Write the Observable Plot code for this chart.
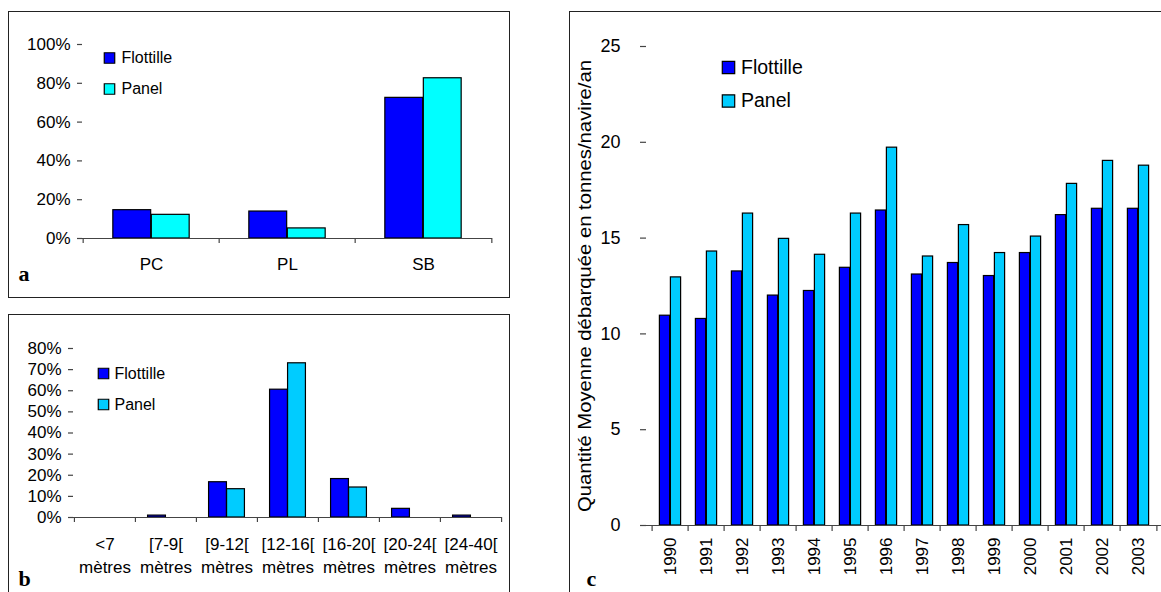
<!DOCTYPE html>
<html><head><meta charset="utf-8">
<script src="https://cdn.jsdelivr.net/npm/d3@7"></script>
<script src="https://cdn.jsdelivr.net/npm/@observablehq/plot@0.6"></script>
<style>
html,body{margin:0;padding:0;background:#fff;}
#wrap{position:relative;width:1161px;height:592px;overflow:hidden;background:#fff;font-family:"Liberation Sans",Arial,sans-serif;}
.frame{position:absolute;border:1.5px solid #222;box-sizing:border-box;}
.chart{position:absolute;}
.chart svg{display:block;background:none !important;}
</style></head><body>
<div id="wrap">
  <div class="frame" style="left:8px;top:11px;width:502px;height:287px"></div>
  <div class="frame" style="left:8px;top:314px;width:502px;height:300px"></div>
  <div class="frame" style="left:569px;top:11px;width:620px;height:620px"></div>
  <div class="chart" id="pa" style="left:9px;top:12px"></div>
  <div class="chart" id="pb" style="left:9px;top:315px"></div>
  <div class="chart" id="pc" style="left:570px;top:12px"></div>
</div>
<script>
// ---- data ----
const seriesNames = ["Flottille", "Panel"];

const catsA = ["PC", "PL", "SB"];
const flottilleA = [0.146, 0.139, 0.725];
const panelA = [0.122, 0.052, 0.826];

const catsB = ["<7\nmètres", "[7-9[\nmètres", "[9-12[\nmètres", "[12-16[\nmètres", "[16-20[\nmètres", "[20-24[\nmètres", "[24-40[\nmètres"];
const flottilleB = [0, 0.009, 0.167, 0.605, 0.182, 0.041, 0.009];
const panelB = [0, 0, 0.134, 0.73, 0.142, 0, 0];

const yearsC = ["1990","1991","1992","1993","1994","1995","1996","1997","1998","1999","2000","2001","2002","2003"];
const flottilleC = [10.95, 10.78, 13.26, 12.0, 12.24, 13.45, 16.44, 13.1, 13.7, 13.02, 14.22, 16.2, 16.53, 16.53];
const panelC = [12.95, 14.3, 16.28, 14.96, 14.13, 16.28, 19.72, 14.04, 15.68, 14.22, 15.08, 17.83, 19.03, 18.78];

const yLabelC = "Quantité Moyenne débarquée en tonnes/navire/an";

const ticksA = [0, 0.2, 0.4, 0.6, 0.8, 1];
const ticksB = [0, 0.1, 0.2, 0.3, 0.4, 0.5, 0.6, 0.7, 0.8];
const ticksC = [0, 5, 10, 15, 20, 25];

// ---- builder ----
function build(cfg) {
  const n = cfg.cats.length;
  const bw = (cfg.width - cfg.ml - cfg.mr) / n;
  const gap = (bw - 2 * cfg.barW) / 2;
  const marks = [];
  seriesNames.forEach((s, si) => {
    const rows = cfg.cats.map((c, i) => ({cat: c, v: cfg.vals[si][i]})).filter(d => d.v > 0);
    marks.push(Plot.barY(rows, {
      x: "cat", y: "v", fill: cfg.colors[si], stroke: "#000", strokeWidth: 1.2,
      insetLeft: si === 0 ? gap : bw / 2, insetRight: si === 0 ? bw / 2 : gap
    }));
  });
  marks.push(Plot.ruleY([0], {stroke: "#444", strokeWidth: 1.2}));
  marks.push(Plot.axisY({ticks: cfg.yTicks, tickFormat: cfg.yFormat, tickSize: cfg.tickSizeY, tickPadding: cfg.tickPadY,
    line: true, stroke: "#444", strokeWidth: 1.2, label: null, fontSize: cfg.fontSize, color: "#000"}));
  marks.push(Plot.axisX({ticks: cfg.cats, tickSize: cfg.tickSizeX, dx: -bw / 2, tickFormat: () => "", stroke: "#444", strokeWidth: 1.2, label: null}));
  marks.push(Plot.axisX({ticks: [cfg.cats[n - 1]], tickSize: cfg.tickSizeX, dx: bw / 2, tickFormat: () => "", stroke: "#444", strokeWidth: 1.2, label: null}));
  marks.push(Plot.axisX(Object.assign({tickSize: 0, tickPadding: cfg.tickPadX, label: null, fontSize: cfg.fontSizeX || cfg.fontSize}, cfg.xAxisExtra || {})));
  // legend
  seriesNames.forEach((s, si) => {
    marks.push(Plot.dot([s], {frameAnchor: "top-left", dx: cfg.leg.dx, dy: cfg.leg.dy + si * cfg.leg.gap,
      symbol: "square", r: cfg.leg.r, fill: cfg.colors[si], stroke: "#000", strokeWidth: 1.2}));
    marks.push(Plot.text([s], {frameAnchor: "top-left", dx: cfg.leg.tx, dy: cfg.leg.dy + si * cfg.leg.gap,
      text: d => d, textAnchor: "start", lineAnchor: "middle", fontSize: cfg.leg.fontSize, fill: "#000"}));
  });
  // panel letter
  marks.push(Plot.text([cfg.letter], {frameAnchor: "bottom-left", dx: cfg.letterPos[0], dy: cfg.letterPos[1], text: d => d,
    textAnchor: "start", lineAnchor: "bottom", fontFamily: "Liberation Serif, Times New Roman, serif", fontWeight: "bold", fontSize: 22, fill: "#000"}));
  if (cfg.extra) marks.push(...cfg.extra);
  const chart = Plot.plot({
    width: cfg.width, height: cfg.height,
    marginLeft: cfg.ml, marginRight: cfg.mr, marginTop: cfg.mt, marginBottom: cfg.mb,
    style: {fontFamily: "Liberation Sans, Arial, sans-serif", fontSize: cfg.fontSize + "px", color: "#000", background: "none", overflow: "visible"},
    x: {type: "band", domain: cfg.cats, padding: 0, label: null},
    y: {domain: cfg.yDomain, label: null},
    marks
  });
  document.getElementById(cfg.el).appendChild(chart);
  return chart;
}

build({
  el: "pa", width: 500, height: 285, ml: 73, mr: 17, mt: 32, mb: 59,
  cats: catsA, vals: [flottilleA, panelA], colors: ["#0000ff", "#00ffff"],
  yDomain: [0, 1], yTicks: ticksA, yFormat: d3.format(".0%"),
  tickSizeY: 5, tickPadY: 7, tickSizeX: 5, tickPadX: 19, fontSize: 17, barW: 38.5,
  leg: {dx: 27, dy: 13.5, gap: 31, r: 5.9, tx: 39, fontSize: 16},
  letter: "a", letterPos: [-64, 42]
});

build({
  el: "pb", width: 500, height: 277, ml: 64, mr: 8, mt: 33, mb: 75,
  cats: catsB, vals: [flottilleB, panelB], colors: ["#0000ff", "#00ccff"],
  yDomain: [0, 0.8], yTicks: ticksB, yFormat: d3.format(".0%"),
  tickSizeY: 5, tickPadY: 7, tickSizeX: 5, tickPadX: 16, fontSize: 17, barW: 18,
  xAxisExtra: {lineHeight: 1.35},
  leg: {dx: 30, dy: 25, gap: 31, r: 5.9, tx: 41, fontSize: 16},
  letter: "b", letterPos: [-55, 68]
});

const chartC = build({
  el: "pc", width: 591, height: 580, ml: 76, mr: 0, mt: 34, mb: 67,
  cats: yearsC, vals: [flottilleC, panelC], colors: ["#0000ff", "#00ccff"],
  yDomain: [0, 25], yTicks: ticksC, yFormat: d3.format("d"),
  tickSizeY: 6, tickPadY: 20, tickSizeX: 6, tickPadX: 12, fontSize: 18, fontSizeX: 17, barW: 11,
  xAxisExtra: {tickRotate: -90},
  leg: {dx: 82, dy: 21, gap: 33.5, r: 7, tx: 94.5, fontSize: 19.5},
  letter: "c", letterPos: [-60, 60],
  extra: [Plot.text([yLabelC], {frameAnchor: "left", rotate: -90, dx: -61, text: d => d, textAnchor: "middle", lineAnchor: "middle", fontSize: 18.5, fill: "#000"})]
});
// compress the long axis title to its drawn length
chartC.querySelectorAll("text").forEach(t => {
  if (t.textContent === yLabelC) {
    t.setAttribute("textLength", 452);
    t.setAttribute("lengthAdjust", "spacingAndGlyphs");
  }
});
</script>
</body></html>
